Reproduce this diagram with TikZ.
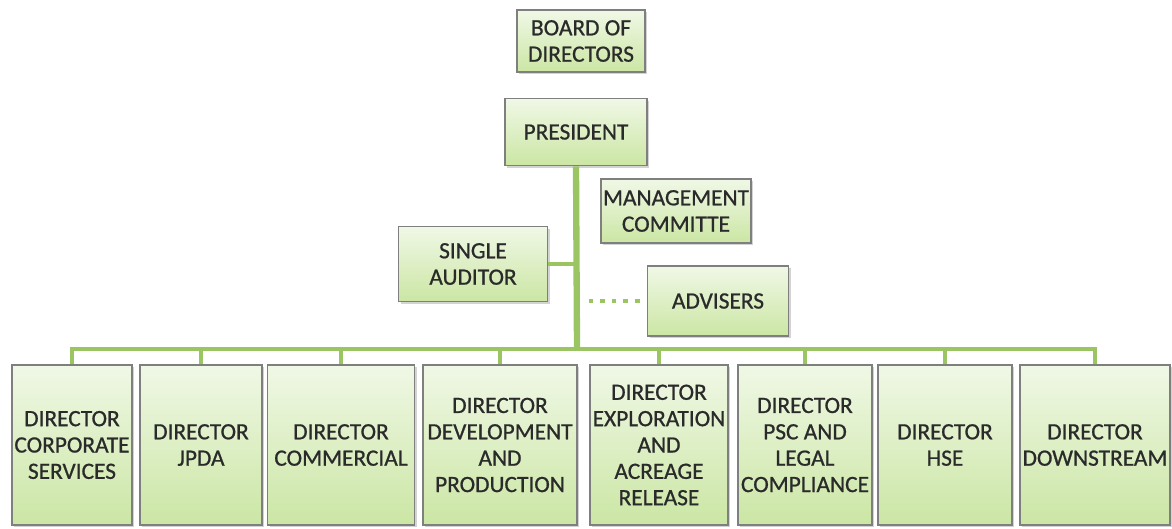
\documentclass[tikz,border=0pt]{standalone}
\usepackage{fontspec}
\setmainfont{Carlito}
\newfontfamily\orgFace{Carlito}[FakeBold=0.8]
\usetikzlibrary{shadows}

\definecolor{box edge}{HTML}{7F7F7F}
\definecolor{box top}{HTML}{F0F8E6}
\definecolor{box bottom}{HTML}{CBE6A4}
\definecolor{link green}{HTML}{9BC463}
\definecolor{label ink}{HTML}{2A2A2A}
\def\orgFont{\orgFace\fontsize{13.3pt}{15pt}\selectfont}
\tikzset{
  unit/.style={draw=box edge, line width=1pt, top color=box top, bottom color=box bottom,
    align=center, inner sep=1pt, font=\orgFont, text=label ink,
    drop shadow={opacity=0.35, shadow xshift=1.2pt, shadow yshift=-1.2pt}},
  dirbox/.style={unit, minimum height=3.2cm}
  }
\tikzstyle{trunk} = [draw=link green, line width=3.6pt]
\tikzstyle{link} = [draw=link green, line width=2.8pt]
\tikzstyle{advice} = [draw=link green, line width=2.8pt, dash pattern=on 2.6pt off 4pt]

\begin{document}
\begin{tikzpicture}[x=0.02cm, y=-0.02cm]
  \useasboundingbox (0,0) rectangle (1172,528);

  % top of the chart
  \node[unit, minimum width=2.56cm, minimum height=1.24cm] (board) at (581,41) {BOARD OF\\DIRECTORS};
  \node[unit, minimum width=2.84cm, minimum height=1.34cm] (pres) at (576,132) {PRESIDENT};
  \node[unit, minimum width=3.0cm, minimum height=1.28cm] (mgmt) at (676,211) {MANAGEMENT\\COMMITTE};
  \node[unit, minimum width=2.98cm, minimum height=1.5cm] (aud) at (473,264) {SINGLE\\AUDITOR};
  \node[unit, minimum width=2.82cm, minimum height=1.4cm] (adv) at (718,301) {ADVISERS};

  \coordinate (hub) at (577,349);
  \path[trunk] (pres.south) -- (hub);
  \path[link] (aud.east) -- (aud.east -| hub);
  \path[advice, shorten <=4pt, shorten >=3pt] (adv.west) -- (adv.west -| hub);

  % directors
  \foreach \x/\w/\name/\txt in {
      72/2.40/corp/{DIRECTOR\\CORPORATE\\SERVICES},
      201/2.44/jpda/{DIRECTOR\\JPDA},
      341/2.94/comm/{DIRECTOR\\COMMERCIAL},
      500/3.08/dev/{DIRECTOR\\DEVELOPMENT\\AND\\PRODUCTION},
      659/2.76/expl/{DIRECTOR\\EXPLORATION\\AND\\ACREAGE\\RELEASE},
      805/2.68/psc/{DIRECTOR\\PSC AND\\LEGAL\\COMPLIANCE},
      945/2.68/hse/{DIRECTOR\\HSE},
      1095/3.00/down/{DIRECTOR\\DOWNSTREAM}} {
    \node[dirbox, minimum width=\w cm] (\name) at (\x,445) {\txt};
    \path[link] (hub) -| (\name.north);
  }
\end{tikzpicture}
\end{document}
